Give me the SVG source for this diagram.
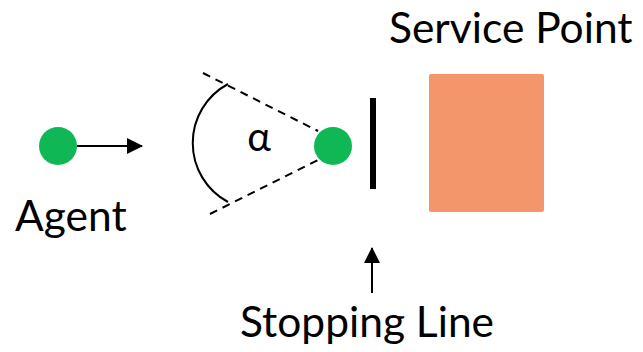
<svg xmlns="http://www.w3.org/2000/svg" width="643" height="352" viewBox="0 0 643 352">
<style>
text{font-family:Lato,"Liberation Sans",sans-serif;font-size:42.5px;fill:#000}
text.greek{font-size:40px}
.agent{fill:#10b755}
.dash{stroke:#000;stroke-width:2;stroke-dasharray:8,6;fill:none}
.ln{stroke:#000;stroke-width:2;fill:none}
</style>
<defs>
<marker id="ah" markerWidth="16" markerHeight="16" refX="15" refY="8" orient="auto" markerUnits="userSpaceOnUse">
<path d="M0,0 L16,8 L0,16 Z" fill="#000"/>
</marker>
</defs>
<g id="agent1">
<circle class="agent" cx="58" cy="146" r="19"/>
<text x="15" y="231">Agent</text>
</g>
<g id="agent2">
<circle class="agent" cx="333" cy="146" r="19"/>
</g>
<g id="angle">
<line class="dash" x1="203" y1="73" x2="318" y2="131"/>
<line class="dash" x1="210" y1="214" x2="318" y2="160"/>
<path class="ln" d="M228,84 A67,67 0 0 0 228,202"/>
<text class="greek" x="259" y="151" text-anchor="middle">α</text>
</g>
<g id="stopping-line">
<rect x="370" y="98" width="6" height="91" fill="#000"/>
<text x="240" y="337">Stopping Line</text>
</g>
<g id="service-point">
<rect x="429" y="74" width="115" height="138" rx="2" fill="#f4966b"/>
<text x="389" y="43">Service Point</text>
</g>
<g id="connectors">
<line class="ln" x1="77" y1="146" x2="142" y2="146" marker-end="url(#ah)"/>
<line class="ln" x1="372" y1="293" x2="372" y2="248" marker-end="url(#ah)"/>
</g>
</svg>
